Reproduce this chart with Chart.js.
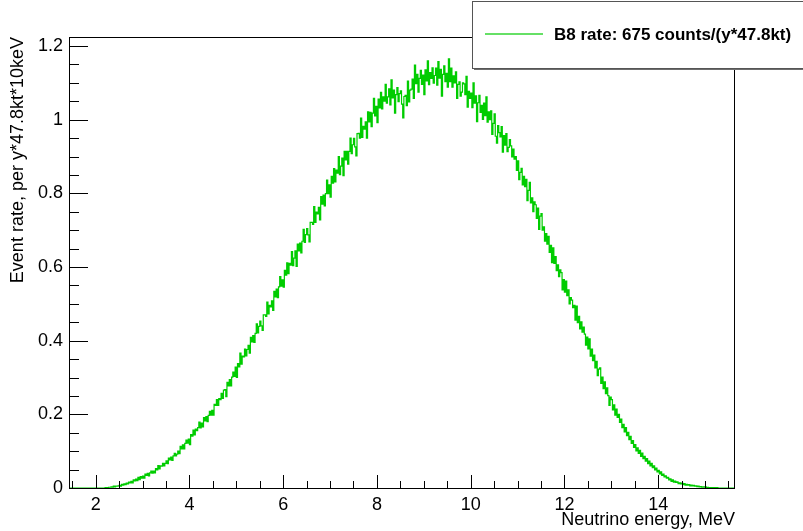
<!DOCTYPE html>
<html>
<head>
<meta charset="utf-8">
<script src="https://cdn.jsdelivr.net/npm/chart.js@4/dist/chart.umd.min.js"></script>
<style>
  html, body { margin: 0; padding: 0; background: #ffffff; }
  #c { display: block; }
</style>
</head>
<body>
<canvas id="c" width="803" height="531"></canvas>
<script>
// B8 solar neutrino event rate histogram, bins of 0.025 MeV starting at 1.45 MeV.
// Bin contents are stored in units of 1e-3 events per y*47.8kt*10keV.
const binLow = 1.45;
const binWidth = 0.025;

const leadingZeros = [0, 0, 0, 0, 0, 0, 0, 0, 0, 0, 0, 0, 0, 0, 0, 0, 0, 0, 0, 0, 0, 0];

const rate2to5 = [
  0, 0, 0, 0, 0, 0, 0, 0, 1, 1,
  1, 2, 2, 3, 2, 5, 3, 5, 5, 6,
  7, 5, 10, 8, 11, 9, 13, 11, 16, 14,
  18, 14, 22, 19, 24, 20, 29, 23, 31, 27,
  32, 27, 38, 34, 40, 33, 41, 46, 40, 46,
  41, 53, 49, 61, 52, 60, 59, 67, 60, 67,
  74, 66, 81, 76, 84, 75, 87, 94, 87, 92,
  100, 93, 113, 106, 117, 106, 121, 130, 122, 133,
  118, 145, 141, 157, 144, 160, 156, 164, 179, 163,
  176, 166, 191, 182, 194, 180, 197, 208, 198, 211,
  198, 227, 224, 240, 224, 243, 240, 257, 243, 266,
  267, 248, 287, 277, 294, 277, 301, 315, 303, 328
];

const rate5to8 = [
  300, 338, 329, 366, 336, 358, 356, 377, 359, 376,
  387, 366, 409, 397, 414, 395, 420, 446, 421, 439,
  453, 440, 428, 470, 470, 466, 505, 473, 496, 492,
  508, 482, 534, 519, 540, 517, 546, 574, 548, 565,
  545, 591, 578, 611, 582, 610, 605, 642, 604, 624,
  644, 602, 662, 644, 665, 638, 670, 702, 667, 688,
  704, 687, 668, 721, 721, 716, 764, 721, 749, 744,
  762, 728, 791, 771, 795, 766, 799, 836, 799, 823,
  790, 846, 828, 867, 831, 863, 855, 900, 851, 874,
  896, 848, 914, 891, 914, 879, 914, 950, 908, 932,
  949, 926, 902, 962, 963, 950, 1004, 952, 982, 974,
  994, 950, 1021, 994, 1020, 981, 1018, 1058, 1010, 1036
];

const rate8to11 = [
  992, 1056, 1032, 1074, 1029, 1062, 1050, 1096, 1045, 1062,
  1084, 1040, 1108, 1059, 1080, 1018, 1068, 1087, 1049, 1071,
  1078, 1042, 1005, 1063, 1066, 1038, 1105, 1048, 1080, 1083,
  1110, 1058, 1148, 1098, 1123, 1075, 1112, 1134, 1096, 1121,
  1068, 1135, 1105, 1160, 1095, 1128, 1112, 1141, 1099, 1120,
  1140, 1094, 1158, 1113, 1137, 1064, 1123, 1146, 1103, 1126,
  1088, 1165, 1103, 1140, 1088, 1119, 1100, 1130, 1058, 1096,
  1103, 1064, 1075, 1100, 1097, 1068, 1118, 1034, 1077, 1058,
  1072, 1033, 1100, 1045, 1065, 995, 1046, 1066, 1020, 1039,
  1001, 1045, 1011, 1062, 993, 1021, 1000, 1024, 960, 990,
  1016, 955, 936, 984, 965, 953, 981, 912, 957, 931,
  962, 913, 925, 946, 929, 899, 920, 893, 900, 862
];

const rate11to14 = [
  888, 837, 857, 868, 823, 846, 818, 838, 780, 808,
  830, 774, 788, 750, 777, 769, 732, 760, 702, 738,
  745, 700, 709, 670, 691, 662, 683, 640, 659, 612,
  652, 610, 628, 590, 606, 574, 592, 585, 538, 566,
  532, 562, 522, 538, 500, 517, 510, 490, 496, 456,
  494, 449, 466, 432, 451, 423, 437, 418, 388, 410,
  378, 405, 358, 377, 346, 361, 326, 344, 305, 323,
  326, 284, 301, 270, 288, 256, 272, 251, 224, 247,
  240, 212, 226, 198, 214, 192, 200, 178, 187, 164,
  173, 152, 164, 142, 151, 131, 140, 121, 129, 110,
  118, 101, 109, 94, 102, 86, 95, 80, 86, 73,
  80, 66, 73, 60, 67, 55, 60, 49, 54, 44
];

const rate14to15p65 = [
  48, 38, 44, 34, 38, 30, 33, 27, 29, 22,
  25, 18, 22, 16, 19, 15, 17, 12, 14, 11,
  13, 9, 12, 8, 10, 8, 9, 6, 8, 6,
  7, 5, 6, 4, 5, 3, 4, 2, 3, 2,
  3, 1, 2, 1, 1, 1, 1, 0, 1, 0,
  1, 0, 0, 0, 0, 0, 0, 0, 0, 0,
  0, 0, 0, 0, 0, 0
];

const xMajorTicks = [2, 4, 6, 8, 10, 12, 14];
const xMinorTicks = [1.5, 2.5, 3, 3.5, 4.5, 5, 5.5, 6.5, 7, 7.5, 8.5, 9, 9.5,
                     10.5, 11, 11.5, 12.5, 13, 13.5, 14.5, 15, 15.5];
const yMajorTicks = [0, 0.2, 0.4, 0.6, 0.8, 1, 1.2];
const yMinorTicks = [0.05, 0.1, 0.15, 0.25, 0.3, 0.35, 0.45, 0.5, 0.55, 0.65, 0.7, 0.75,
                     0.85, 0.9, 0.95, 1.05, 1.1, 1.15];

const legendLabel = 'B8 rate: 675 counts/(y*47.8kt)';
const xTitle = 'Neutrino energy, MeV';
const yTitle = 'Event rate, per y*47.8kt*10keV';

const rateMilli = [].concat(leadingZeros, rate2to5, rate5to8, rate8to11, rate11to14, rate14to15p65);

// histogram points at the low edge of every bin, closed at the last high edge
const points = rateMilli.map((v, i) => ({ x: binLow + i * binWidth, y: v / 1000 }));
points.push({ x: binLow + rateMilli.length * binWidth, y: rateMilli[rateMilli.length - 1] / 1000 });

const FONT = "'Liberation Sans', Arial, Helvetica, sans-serif";
const GREEN = '#00cc00';

function tickList(major, minor) {
  return major.map(v => ({ value: v, major: true }))
    .concat(minor.map(v => ({ value: v, major: false })))
    .sort((a, b) => a.value - b.value);
}

// frame, inward tick marks and the legend box
const framePlugin = {
  id: 'frame',
  afterDraw(chart) {
    const { ctx, chartArea: a, scales } = chart;
    ctx.save();
    ctx.strokeStyle = '#000000';
    ctx.lineWidth = 1;
    ctx.strokeRect(a.left + 0.5, a.top + 0.5, a.right - a.left - 1, a.bottom - a.top);

    ctx.beginPath();
    scales.x.ticks.forEach(t => {
      const px = Math.round(scales.x.getPixelForValue(t.value)) + 0.5;
      const len = t.major ? 13 : 7;
      ctx.moveTo(px, a.bottom);
      ctx.lineTo(px, a.bottom - len);
    });
    scales.y.ticks.forEach(t => {
      const py = Math.round(scales.y.getPixelForValue(t.value)) + 0.5;
      const len = t.major ? 19 : 10;
      ctx.moveTo(a.left, py);
      ctx.lineTo(a.left + len, py);
    });
    ctx.stroke();

    // legend with shadow
    const lx = 472, ly = 1, lw = 340, lh = 67;
    ctx.fillStyle = '#6e6e6e';
    ctx.fillRect(lx + 2, ly + 2, lw, lh);
    ctx.fillStyle = '#ffffff';
    ctx.fillRect(lx, ly, lw, lh);
    ctx.strokeStyle = '#555555';
    ctx.lineWidth = 1;
    ctx.strokeRect(lx + 0.5, ly + 0.5, lw, lh);

    ctx.strokeStyle = 'rgba(0,204,0,0.6)';
    ctx.lineWidth = 2;
    ctx.beginPath();
    ctx.moveTo(485, 34);
    ctx.lineTo(543, 34);
    ctx.stroke();

    ctx.fillStyle = '#000000';
    ctx.font = 'bold 17px ' + FONT;
    ctx.textAlign = 'left';
    ctx.textBaseline = 'middle';
    ctx.fillText(legendLabel, 554, 35);
    ctx.restore();
  }
};

new Chart(document.getElementById('c'), {
  type: 'line',
  data: {
    datasets: [{
      data: points,
      stepped: 'before',
      borderColor: GREEN,
      borderWidth: 1.2,
      pointRadius: 0,
      fill: false,
      tension: 0
    }]
  },
  options: {
    responsive: false,
    animation: false,
    devicePixelRatio: 1,
    layout: { padding: { top: 37, right: 68, left: 0, bottom: 0 } },
    plugins: { legend: { display: false }, tooltip: { enabled: false }, title: { display: false } },
    scales: {
      x: {
        type: 'linear',
        min: 1.43,
        max: 15.64,
        afterBuildTicks: s => { s.ticks = tickList(xMajorTicks, xMinorTicks); },
        afterFit: s => { s.height = 43; },
        grid: { display: false, drawTicks: false },
        border: { display: false },
        ticks: {
          autoSkip: false,
          maxRotation: 0,
          padding: 6,
          color: '#000000',
          font: { family: FONT, size: 18 },
          callback: v => (xMajorTicks.includes(v) ? String(v) : '')
        },
        title: {
          display: true,
          text: xTitle,
          align: 'end',
          color: '#000000',
          font: { family: FONT, size: 18 },
          padding: { top: 0, bottom: 0 }
        }
      },
      y: {
        type: 'linear',
        min: 0,
        max: 1.2245,
        afterBuildTicks: s => { s.ticks = tickList(yMajorTicks, yMinorTicks); },
        afterFit: s => { s.width = 69; },
        grid: { display: false, drawTicks: false },
        border: { display: false },
        ticks: {
          autoSkip: false,
          padding: 6,
          color: '#000000',
          font: { family: FONT, size: 18 },
          callback: v => (yMajorTicks.includes(v) ? String(v) : '')
        },
        title: {
          display: true,
          text: yTitle,
          align: 'end',
          color: '#000000',
          font: { family: FONT, size: 18 },
          padding: { top: 7, bottom: 0 }
        }
      }
    }
  },
  plugins: [framePlugin]
});
</script>
</body>
</html>
